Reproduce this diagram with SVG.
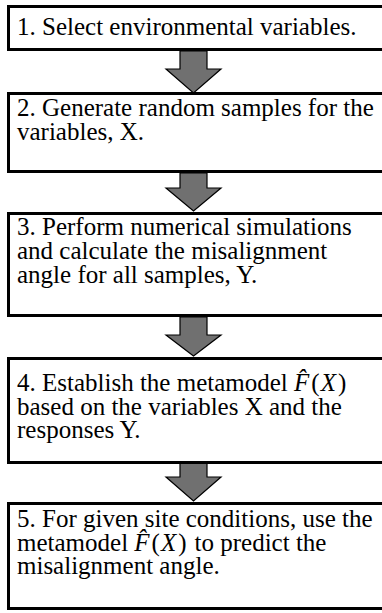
<svg xmlns="http://www.w3.org/2000/svg" width="382" height="613" viewBox="0 0 382 613">
<style>
.box{fill:#fff;stroke:#000;stroke-width:3}
.arr{fill:#707070;stroke:#000;stroke-width:1.2;stroke-linejoin:miter}
text{font-family:"Liberation Serif","Times New Roman","DejaVu Serif",serif;font-size:25px;fill:#000}
.m{font-style:italic}
</style>
<rect width="382" height="613" fill="#fff"/>
<g id="connectors">
<polygon class="arr" points="180,51 207,51 207,69 221,69 193.5,93 166,69 180,69"/>
<polygon class="arr" points="180,173 207,173 207,188 221,188 193.5,211 166,188 180,188"/>
<polygon class="arr" points="180,317 207,317 207,335 221,335 193.5,356 166,335 180,335"/>
<polygon class="arr" points="180,463 207,463 207,477 221,477 193.5,501 166,477 180,477"/>
</g>
<g id="n1">
<rect class="box" x="8.5" y="6.5" width="380" height="43"/>
<text x="17" y="35">1. Select environmental variables.</text>
</g>
<g id="n2">
<rect class="box" x="8.5" y="93.5" width="380" height="78"/>
<text x="17" y="116">2. Generate random samples for the</text>
<text x="17" y="140">variables, X.</text>
</g>
<g id="n3">
<rect class="box" x="8.5" y="213.5" width="380" height="102"/>
<text x="17" y="235">3. Perform numerical simulations</text>
<text x="17" y="259">and calculate the misalignment</text>
<text x="17" y="283">angle for all samples, Y.</text>
</g>
<g id="n4">
<rect class="box" x="8.5" y="358.5" width="380" height="104"/>
<text x="17" y="391">4. Establish the metamodel <tspan class="m">F̂</tspan><tspan dx="2">(</tspan><tspan class="m" dx="1">X</tspan><tspan dx="2">)</tspan></text>
<text x="17" y="415">based on the variables X and the</text>
<text x="17" y="438">responses Y.</text>
</g>
<g id="n5">
<rect class="box" x="8.5" y="503.5" width="380" height="105"/>
<text x="17" y="527">5. For given site conditions, use the</text>
<text x="17" y="551">metamodel <tspan class="m">F̂</tspan><tspan dx="2">(</tspan><tspan class="m" dx="1">X</tspan><tspan dx="2">)</tspan><tspan dx="8">to predict the</tspan></text>
<text x="17" y="574">misalignment angle.</text>
</g>
</svg>
